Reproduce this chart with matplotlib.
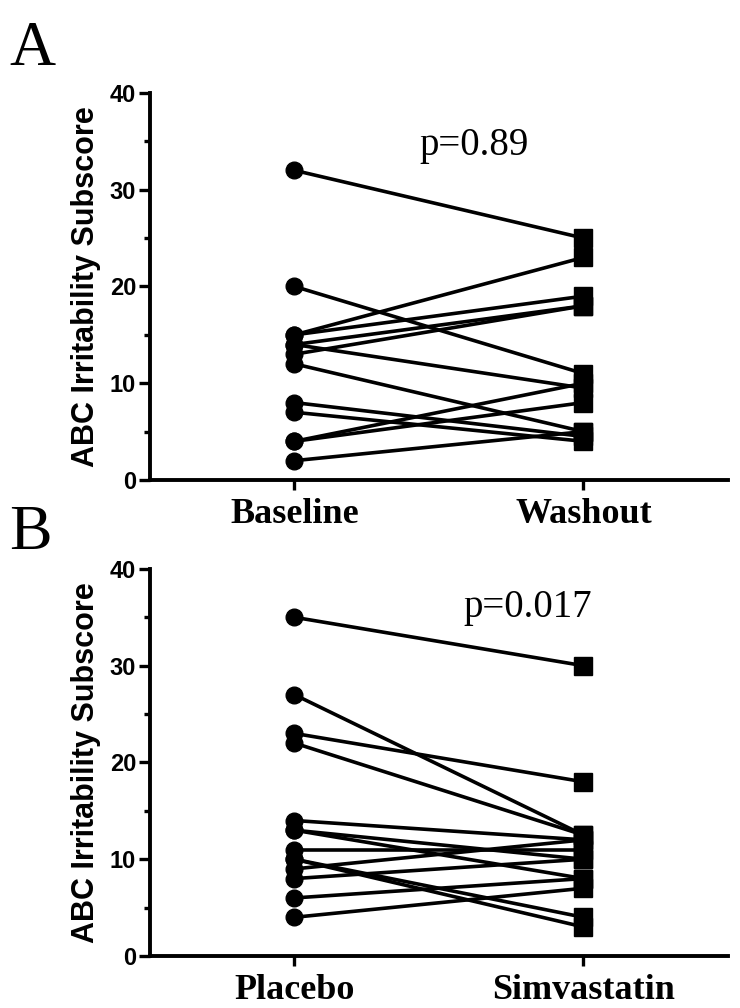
import matplotlib
matplotlib.use("Agg")
import matplotlib.pyplot as plt
from matplotlib.ticker import MultipleLocator

# panel A: baseline vs washout
groups_a = ["Baseline", "Washout"]
baseline = [32, 20, 15, 15, 14, 14, 13, 12, 8, 7, 4, 4, 2]
washout = [25, 11, 23, 19, 18, 9.5, 18, 5, 4.5, 4, 10, 8, 5]
p_a = "p=0.89"

# panel B: placebo vs simvastatin
groups_b = ["Placebo", "Simvastatin"]
placebo = [35, 27, 23, 22, 14, 13, 13, 11, 10, 10, 9, 8, 6, 4]
simva = [30, 12.5, 18, 12.5, 12, 8, 10, 11, 4, 3, 12, 10, 8, 7]
p_b = "p=0.017"

ylab = "ABC Irritability Subscore"

fig = plt.figure(figsize=(7.4, 10.08), dpi=100)


def draw(ax, names, before, after, ptext, py, px):
    for b, a in zip(before, after):
        ax.plot([0, 1], [b, a], color="black", lw=2.6, zorder=2)
    ax.plot([0] * len(before), before, "o", color="black", ms=12, zorder=3)
    ax.plot([1] * len(after), after, "s", color="black", ms=13, zorder=3)
    ax.set_xlim(-0.5, 1.5)
    ax.set_ylim(0, 40)
    ax.yaxis.set_major_locator(MultipleLocator(10))
    ax.yaxis.set_minor_locator(MultipleLocator(5))
    ax.set_xticks([0, 1])
    ax.set_xticklabels(names, fontfamily="Liberation Serif", fontweight="bold", fontsize=26)
    for s in ["top", "right"]:
        ax.spines[s].set_visible(False)
    for s in ["left", "bottom"]:
        ax.spines[s].set_linewidth(2.8)
    ax.tick_params(axis="y", which="major", length=8, width=2.4, labelsize=17, pad=2)
    ax.tick_params(axis="y", which="minor", length=4, width=2.4)
    ax.tick_params(axis="x", length=7, width=2.4, pad=6)
    for t in ax.get_yticklabels():
        t.set_fontfamily("Liberation Sans")
        t.set_fontweight("bold")
    ax.set_ylabel(ylab, fontfamily="Liberation Sans", fontweight="bold", fontsize=22, labelpad=6)
    ax.text(px, py, ptext, fontfamily="Liberation Serif", fontsize=28, ha="center", va="center")


ax1 = fig.add_axes([0.2027, 0.5238, 0.781, 0.384])
draw(ax1, groups_a, baseline, washout, p_a, 34.6, 0.62)
ax2 = fig.add_axes([0.2027, 0.0516, 0.781, 0.384])
draw(ax2, groups_b, placebo, simva, p_b, 36, 0.806)

fig.text(0.013, 0.95, "A", fontfamily="Liberation Serif", fontsize=46, va="center")
fig.text(0.013, 0.47, "B", fontfamily="Liberation Serif", fontsize=46, va="center")

fig.savefig("out.png", dpi=100)
